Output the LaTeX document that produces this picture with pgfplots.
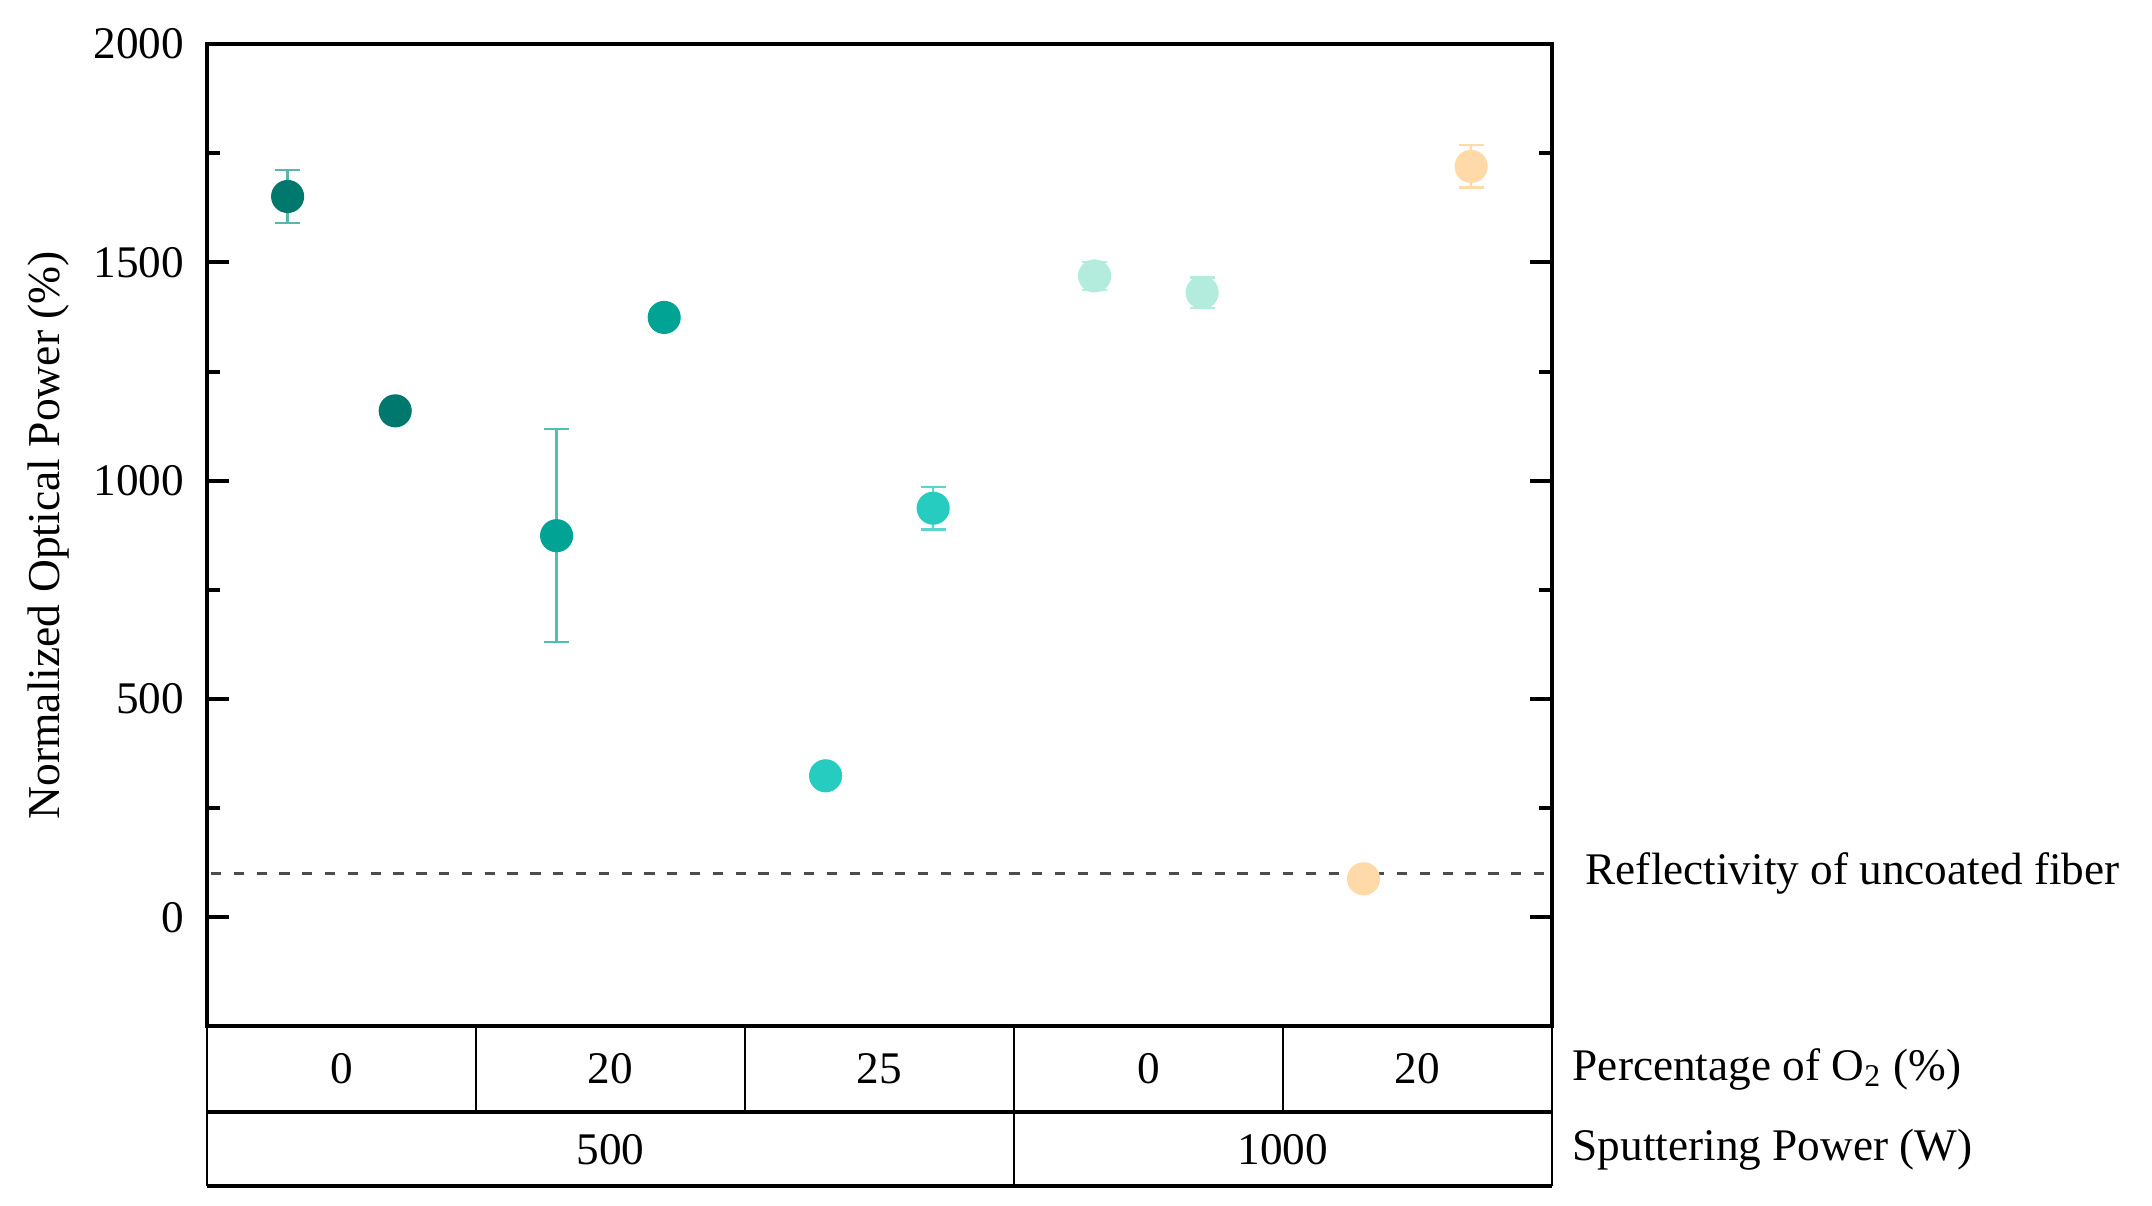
\documentclass[border=0pt,12pt]{standalone}
\usepackage{fontspec}
\setmainfont{Liberation Serif}
\usepackage{pgfplots}
\pgfplotsset{compat=1.18}

\definecolor{cA}{HTML}{00786E}
\definecolor{cB}{HTML}{00A394}
\definecolor{cC}{HTML}{26CCC0}
\definecolor{cD}{HTML}{B3EBDC}
\definecolor{cE}{HTML}{FFD9A8}
\definecolor{eA}{HTML}{5BB5AD}
\definecolor{eB}{HTML}{4CC0B5}
\definecolor{eC}{HTML}{5AD6CB}

\pgfplotsset{
  pt/.style 2 args={only marks, mark=*, mark size=4.3pt, color=#1,
    mark options={fill=#1, draw=#1},
    error bars/.cd, y dir=both, y explicit,
    error bar style={#2, line width=0.7pt},
    error mark options={#2, line width=0.7pt, mark size=3.4pt, rotate=90}},
}

\begin{document}
\begin{tikzpicture}
\begin{axis}[
    scale only axis,
    width=365.6pt, height=267pt,
    xmin=0, xmax=10, ymin=-250, ymax=2000,
    xtick=\empty,
    ytick={0,500,...,2000},
    minor y tick num=1,
    ytick pos=both, yticklabel pos=left,
    tick align=inside,
    major tick length=6pt, minor tick length=3.5pt,
    axis line style={line width=1.1pt},
    every tick/.style={black, line width=1.1pt},
    /pgf/number format/assume math mode=true,
    /pgf/number format/1000 sep={},
    yticklabel style={font=\fontsize{12.3}{14}\selectfont, xshift=-2pt},
    ylabel={Normalized Optical Power (\%)},
    every axis y label/.style={at={([xshift=-43pt]rel axis cs:0,0.5)}, rotate=90, anchor=center, font=\fontsize{12.4}{14}\selectfont},
    clip=false,
]

% reference line
\addplot[draw=black!70, line width=0.7pt, dash pattern=on 2.8pt off 3.4pt] coordinates {(0.03,100) (9.97,100)};

\addplot[pt={cA}{eA}] coordinates {(0.6,1651) +- (0,61) (1.4,1160) +- (0,12)};
\addplot[pt={cB}{eB}] coordinates {(2.6,874) +- (0,244) (3.4,1374) +- (0,12)};
\addplot[pt={cC}{eC}] coordinates {(4.6,324) +- (0,10) (5.4,937) +- (0,49)};
\addplot[pt={cD}{cD}] coordinates {(6.6,1469) +- (0,32) (7.4,1431) +- (0,35)};
\addplot[pt={cE}{cE}] coordinates {(8.6,88) +- (0,10) (9.4,1720) +- (0,49)};

\node[anchor=west, font=\fontsize{12.3}{14}\selectfont] at ([xshift=5pt]axis cs:10,100) {Reflectivity of uncoated fiber};

% category table under the axis
\draw[line width=0.6pt] (rel axis cs:0,0) -- ([yshift=-43.5pt]rel axis cs:0,0);
\draw[line width=0.6pt] (rel axis cs:1,0) -- ([yshift=-43.5pt]rel axis cs:1,0);
\draw[line width=0.6pt] (axis cs:2,-250) -- ([yshift=-23.25pt]axis cs:2,-250);
\draw[line width=0.6pt] (axis cs:4,-250) -- ([yshift=-23.25pt]axis cs:4,-250);
\draw[line width=0.6pt] (axis cs:8,-250) -- ([yshift=-23.25pt]axis cs:8,-250);
\draw[line width=0.6pt] (axis cs:6,-250) -- ([yshift=-43.5pt]axis cs:6,-250);
\draw[line width=1.1pt] ([yshift=-23.25pt]rel axis cs:0,0) -- ([yshift=-23.25pt]rel axis cs:1,0);
\draw[line width=1.1pt] ([yshift=-43.5pt]rel axis cs:0,0) -- ([yshift=-43.5pt]rel axis cs:1,0);

\node[font=\fontsize{12.3}{14}\selectfont] at ([yshift=-11.6pt]axis cs:1,-250) {0};
\node[font=\fontsize{12.3}{14}\selectfont] at ([yshift=-11.6pt]axis cs:3,-250) {20};
\node[font=\fontsize{12.3}{14}\selectfont] at ([yshift=-11.6pt]axis cs:5,-250) {25};
\node[font=\fontsize{12.3}{14}\selectfont] at ([yshift=-11.6pt]axis cs:7,-250) {0};
\node[font=\fontsize{12.3}{14}\selectfont] at ([yshift=-11.6pt]axis cs:9,-250) {20};
\node[font=\fontsize{12.3}{14}\selectfont] at ([yshift=-33.4pt]axis cs:3,-250) {500};
\node[font=\fontsize{12.3}{14}\selectfont] at ([yshift=-33.4pt]axis cs:8,-250) {1000};

\node[anchor=west, font=\fontsize{12.3}{14}\selectfont] at ([xshift=1.5pt, yshift=-11.6pt]rel axis cs:1,0) {Percentage of O\textsubscript{2} (\%)};
\node[anchor=west, font=\fontsize{12.3}{14}\selectfont] at ([xshift=1.5pt, yshift=-33.4pt]rel axis cs:1,0) {Sputtering Power (W)};
\end{axis}
\pgfresetboundingbox
\path[use as bounding box] (-56.25pt,-48.6pt) rectangle (528.75pt,279pt);
\end{tikzpicture}
\end{document}
